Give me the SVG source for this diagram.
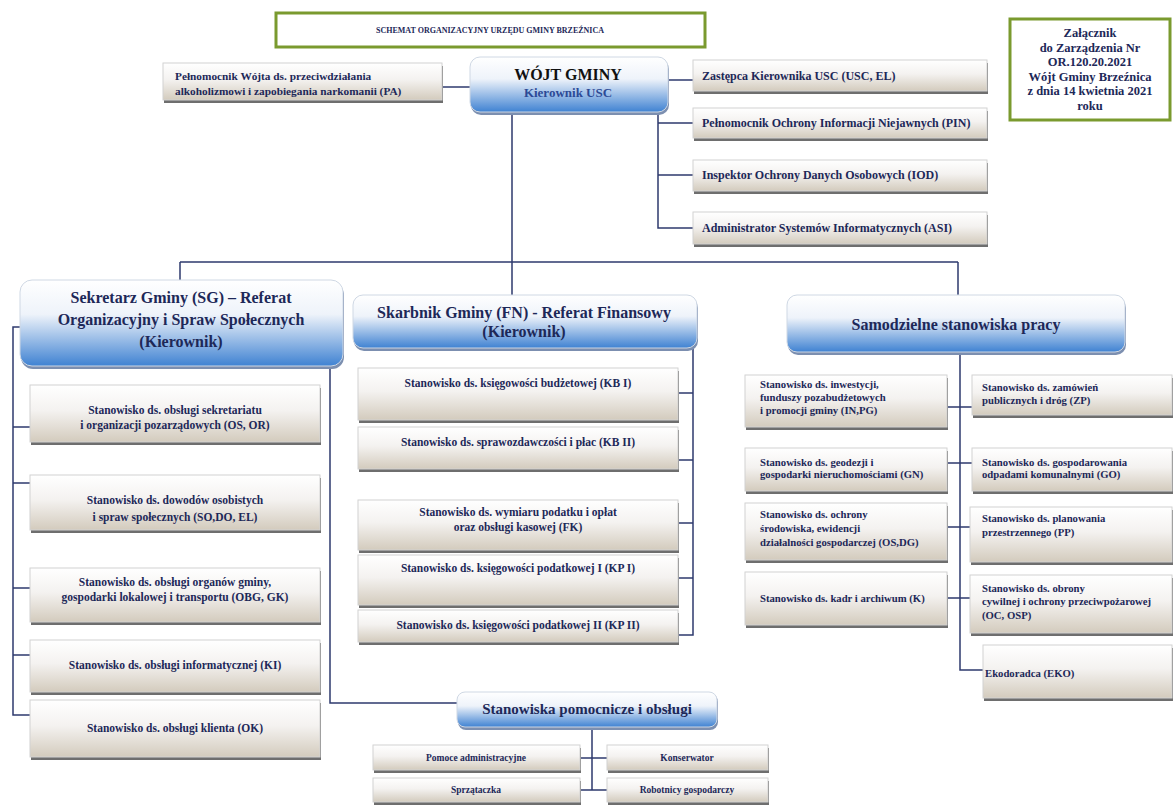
<svg xmlns="http://www.w3.org/2000/svg" width="1175" height="805" viewBox="0 0 1175 805" font-family="'Liberation Serif', 'Times New Roman', 'DejaVu Serif', serif">
<defs>
<linearGradient id="plate" x1="0" y1="0" x2="0" y2="1">
<stop offset="0" stop-color="#ffffff"/>
<stop offset="0.45" stop-color="#f4f2f0"/>
<stop offset="1" stop-color="#d3cbbd"/>
</linearGradient>
<linearGradient id="head" x1="0" y1="0" x2="0" y2="1">
<stop offset="0" stop-color="#ffffff"/>
<stop offset="0.4" stop-color="#eef3fa"/>
<stop offset="1" stop-color="#3f82d2"/>
</linearGradient>
<style>
text{font-family:'Liberation Serif','Times New Roman','DejaVu Serif',serif;font-weight:bold;fill:#1d2858}
.c{text-anchor:middle}
.sh{fill:#6e6e6e}
.pl{fill:url(#plate);stroke:#d2d2d2;stroke-width:1}
.hd{fill:url(#head);stroke:#cfd8e4;stroke-width:1}
.hsh{fill:#7c8fb0}
.conn{fill:none;stroke:#2e3a6e;stroke-width:1.5}
.sl{font-size:11.5px}
.sm{font-size:11.5px}
.s9{font-size:10.7px}
.s11{font-size:12px}
.nt{font-size:12.5px}
.h16{font-size:16px}
.frame{fill:#ffffff;stroke:#7a9a2e;stroke-width:3}
</style>
</defs>
<rect width="1175" height="805" fill="#ffffff"/>

<g id="connectors">
<path class="conn" d="M442 87H470"/>
<path class="conn" d="M668 80H693"/>
<path class="conn" d="M658 112V228H693M658 123H693M658 175H693"/>
<path class="conn" d="M512 112V262M180 262H958M180 262V280M512 262V295M958 262V295"/>
<path class="conn" d="M20 327H13V715H30M13 427H30M13 483H30M13 588H30M13 655H30"/>
<path class="conn" d="M330 365V703H457"/>
<path class="conn" d="M693 348V635H678M678 393H693M678 460H693M678 523H693M678 578H693"/>
<path class="conn" d="M960 352V670H983M945 407H975M945 463H975M945 527H975M945 598H975"/>
<path class="conn" d="M592 727V790M580 758H607M580 790H607"/>
</g>

<g id="title">
<rect class="frame" x="276" y="13" width="429" height="34"/>
<text class="c" x="490" y="33" style="font-size:8px">SCHEMAT ORGANIZACYJNY URZĘDU GMINY BRZEŹNICA</text>
</g>

<g id="note">
<rect class="frame" x="1010" y="19" width="160" height="101"/>
<text class="c nt" x="1090" y="37">Załącznik</text>
<text class="c nt" x="1090" y="52">do Zarządzenia Nr</text>
<text class="c nt" x="1090" y="66">OR.120.20.2021</text>
<text class="c nt" x="1090" y="81">Wójt Gminy Brzeźnica</text>
<text class="c nt" x="1090" y="95">z dnia 14 kwietnia 2021</text>
<text class="c nt" x="1090" y="110">roku</text>
</g>

<g id="pa">
<rect class="sh" x="164" y="66" width="279" height="37"/>
<rect class="pl" x="163" y="63" width="279" height="37"/>
<text x="175" y="80" style="font-size:11.3px">Pełnomocnik Wójta ds. przeciwdziałania</text>
<text x="175" y="95" style="font-size:11.3px">alkoholizmowi i zapobiegania narkomanii (PA)</text>
</g>

<g id="wojt">
<rect class="hsh" x="471" y="59" width="198" height="56" rx="10"/>
<rect class="hd" x="470" y="57" width="198" height="55" rx="10"/>
<text class="c" x="568" y="80" style="font-size:16px;fill:#111">WÓJT GMINY</text>
<text class="c" x="568" y="97" style="font-size:13px;fill:#2c4a96">Kierownik USC</text>
</g>

<g id="usc">
<rect class="sh" x="694" y="63" width="294" height="31"/>
<rect class="pl" x="693" y="60" width="294" height="31"/>
<text class="s11" x="702" y="80">Zastępca Kierownika USC (USC, EL)</text>
</g>
<g id="pin">
<rect class="sh" x="694" y="111" width="294" height="30"/>
<rect class="pl" x="693" y="108" width="294" height="30"/>
<text class="s11" x="702" y="127">Pełnomocnik Ochrony Informacji Niejawnych (PIN)</text>
</g>
<g id="iod">
<rect class="sh" x="694" y="163" width="294" height="31"/>
<rect class="pl" x="693" y="160" width="294" height="31"/>
<text class="s11" x="702" y="179">Inspektor Ochrony Danych Osobowych (IOD)</text>
</g>
<g id="asi">
<rect class="sh" x="694" y="215" width="294" height="32"/>
<rect class="pl" x="693" y="212" width="294" height="32"/>
<text class="s11" x="702" y="232">Administrator Systemów Informatycznych (ASI)</text>
</g>

<g id="sg">
<rect class="hsh" x="21" y="283" width="323" height="86" rx="12"/>
<rect class="hd" x="20" y="280" width="323" height="86" rx="12"/>
<text class="c h16" x="181" y="303">Sekretarz Gminy (SG)  – Referat</text>
<text class="c h16" x="181" y="325">Organizacyjny i Spraw Społecznych</text>
<text class="c h16" x="181" y="347">(Kierownik)</text>
</g>

<g id="fn">
<rect class="hsh" x="354" y="298" width="344" height="53" rx="10"/>
<rect class="hd" x="353" y="295" width="344" height="53" rx="10"/>
<text class="c h16" x="524" y="318">Skarbnik Gminy (FN) - Referat Finansowy</text>
<text class="c h16" x="524" y="337">(Kierownik)</text>
</g>

<g id="ssp">
<rect class="hsh" x="788" y="298" width="338" height="57" rx="10"/>
<rect class="hd" x="787" y="295" width="338" height="57" rx="10"/>
<text class="c h16" x="956" y="330">Samodzielne stanowiska pracy</text>
</g>

<g id="os">
<rect class="sh" x="31" y="388" width="290" height="57"/>
<rect class="pl" x="30" y="385" width="290" height="57"/>
<text class="c sl" x="175" y="414">Stanowisko ds. obsługi sekretariatu</text>
<text class="c sl" x="175" y="429">i organizacji pozarządowych (OS, OR)</text>
</g>
<g id="so">
<rect class="sh" x="31" y="478" width="290" height="55"/>
<rect class="pl" x="30" y="475" width="290" height="55"/>
<text class="c sl" x="175" y="504">Stanowisko ds. dowodów osobistych</text>
<text class="c sl" x="175" y="521">i spraw społecznych (SO,DO, EL)</text>
</g>
<g id="obg">
<rect class="sh" x="31" y="571" width="290" height="54"/>
<rect class="pl" x="30" y="568" width="290" height="54"/>
<text class="c sl" x="175" y="586">Stanowisko ds. obsługi organów gminy,</text>
<text class="c sl" x="175" y="601">gospodarki lokalowej i transportu (OBG, GK)</text>
</g>
<g id="ki">
<rect class="sh" x="31" y="643" width="290" height="52"/>
<rect class="pl" x="30" y="640" width="290" height="52"/>
<text class="c sl" x="175" y="669">Stanowisko ds. obsługi informatycznej (KI)</text>
</g>
<g id="ok">
<rect class="sh" x="31" y="703" width="290" height="57"/>
<rect class="pl" x="30" y="700" width="290" height="57"/>
<text class="c sl" x="175" y="732">Stanowisko ds. obsługi klienta (OK)</text>
</g>

<g id="kb1">
<rect class="sh" x="359" y="371" width="320" height="52"/>
<rect class="pl" x="358" y="368" width="320" height="52"/>
<text class="c sm" x="518" y="387">Stanowisko ds. księgowości budżetowej (KB I)</text>
</g>
<g id="kb2">
<rect class="sh" x="359" y="430" width="320" height="42"/>
<rect class="pl" x="358" y="427" width="320" height="42"/>
<text class="c sm" x="518" y="446">Stanowisko ds. sprawozdawczości i płac (KB II)</text>
</g>
<g id="fk">
<rect class="sh" x="359" y="503" width="320" height="50"/>
<rect class="pl" x="358" y="500" width="320" height="50"/>
<text class="c sm" x="518" y="516">Stanowisko ds. wymiaru podatku i opłat</text>
<text class="c sm" x="518" y="531">oraz obsługi kasowej (FK)</text>
</g>
<g id="kp1">
<rect class="sh" x="359" y="558" width="320" height="50"/>
<rect class="pl" x="358" y="555" width="320" height="50"/>
<text class="c sm" x="518" y="572">Stanowisko ds. księgowości podatkowej I (KP I)</text>
</g>
<g id="kp2">
<rect class="sh" x="359" y="613" width="320" height="32"/>
<rect class="pl" x="358" y="610" width="320" height="32"/>
<text class="c sm" x="518" y="629">Stanowisko ds. księgowości podatkowej II (KP II)</text>
</g>

<g id="in">
<rect class="sh" x="746" y="378" width="202" height="52"/>
<rect class="pl" x="745" y="375" width="202" height="52"/>
<text class="s9" x="760" y="388">Stanowisko ds. inwestycji,</text>
<text class="s9" x="760" y="401">funduszy pozabudżetowych</text>
<text class="s9" x="760" y="414">i promocji gminy (IN,PG)</text>
</g>
<g id="zp">
<rect class="sh" x="973" y="378" width="200" height="40"/>
<rect class="pl" x="972" y="375" width="200" height="40"/>
<text class="s9" x="982" y="391">Stanowisko ds. zamówień</text>
<text class="s9" x="982" y="404">publicznych i dróg (ZP)</text>
</g>
<g id="gn">
<rect class="sh" x="746" y="451" width="202" height="43"/>
<rect class="pl" x="745" y="448" width="202" height="43"/>
<text class="s9" x="760" y="466">Stanowisko ds. geodezji i</text>
<text class="s9" x="760" y="478">gospodarki nieruchomościami (GN)</text>
</g>
<g id="go">
<rect class="sh" x="973" y="451" width="200" height="43"/>
<rect class="pl" x="972" y="448" width="200" height="43"/>
<text class="s9" x="982" y="466">Stanowisko ds. gospodarowania</text>
<text class="s9" x="982" y="478">odpadami komunalnymi (GO)</text>
</g>
<g id="osdg">
<rect class="sh" x="746" y="506" width="202" height="57"/>
<rect class="pl" x="745" y="503" width="202" height="57"/>
<text class="s9" x="760" y="518">Stanowisko ds. ochrony</text>
<text class="s9" x="760" y="532">środowiska, ewidencji</text>
<text class="s9" x="760" y="546">działalności gospodarczej (OS,DG)</text>
</g>
<g id="pp">
<rect class="sh" x="971" y="510" width="202" height="55"/>
<rect class="pl" x="970" y="507" width="202" height="55"/>
<text class="s9" x="982" y="522">Stanowisko ds. planowania</text>
<text class="s9" x="982" y="536">przestrzennego (PP)</text>
</g>
<g id="k">
<rect class="sh" x="746" y="575" width="202" height="53"/>
<rect class="pl" x="745" y="572" width="202" height="53"/>
<text class="s9" x="760" y="602">Stanowisko ds. kadr i archiwum (K)</text>
</g>
<g id="oc">
<rect class="sh" x="971" y="578" width="202" height="58"/>
<rect class="pl" x="970" y="575" width="202" height="58"/>
<text class="s9" x="982" y="592">Stanowisko ds. obrony</text>
<text class="s9" x="982" y="605">cywilnej i ochrony przeciwpożarowej</text>
<text class="s9" x="982" y="619">(OC, OSP)</text>
</g>
<g id="eko">
<rect class="sh" x="984" y="648" width="189" height="53"/>
<rect class="pl" x="983" y="645" width="189" height="53"/>
<text class="s9" x="985" y="677">Ekodoradca (EKO)</text>
</g>

<g id="spo">
<rect class="hsh" x="458" y="694" width="260" height="36" rx="8"/>
<rect class="hd" x="457" y="692" width="260" height="35" rx="8"/>
<text class="c" x="587" y="714" style="font-size:15px">Stanowiska pomocnicze i obsługi</text>
</g>
<g id="pomoce">
<rect class="sh" x="374" y="748" width="207" height="25"/>
<rect class="pl" x="373" y="745" width="207" height="25"/>
<text class="c" x="476" y="761" style="font-size:9.5px">Pomoce administracyjne</text>
</g>
<g id="konserwator">
<rect class="sh" x="608" y="748" width="161" height="25"/>
<rect class="pl" x="607" y="745" width="161" height="25"/>
<text class="c" x="687" y="761" style="font-size:9.5px">Konserwator</text>
</g>
<g id="sprzataczka">
<rect class="sh" x="374" y="781" width="207" height="24"/>
<rect class="pl" x="373" y="778" width="207" height="24"/>
<text class="c" x="476" y="793" style="font-size:9.5px">Sprzątaczka</text>
</g>
<g id="robotnicy">
<rect class="sh" x="608" y="781" width="161" height="24"/>
<rect class="pl" x="607" y="778" width="161" height="24"/>
<text class="c" x="687" y="793" style="font-size:9.5px">Robotnicy gospodarczy</text>
</g>
</svg>
